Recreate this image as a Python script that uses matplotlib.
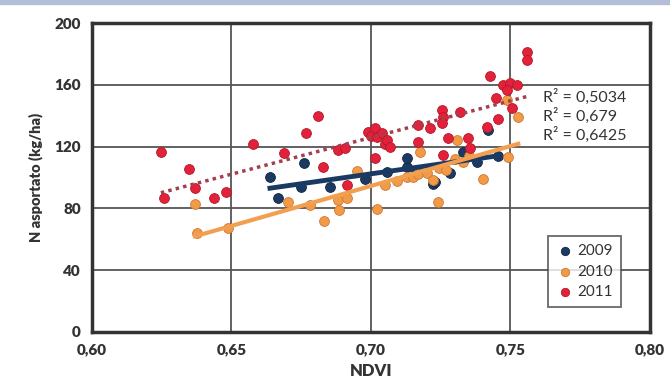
import numpy as np
import matplotlib
matplotlib.use("Agg")
import matplotlib.pyplot as plt
from matplotlib.patches import Rectangle

plt.rcParams['font.family'] = ['Lato', 'DejaVu Sans']

# NDVI vs N asportato, per anno
ndvi_2009 = [0.6638, 0.6668, 0.6761, 0.6751, 0.6853, 0.6980, 0.7056, 0.7128,
             0.7128, 0.7160, 0.7222, 0.7230, 0.7283, 0.7331, 0.7379, 0.7420, 0.7455]
n_2009 = [100, 86.5, 109.2, 94, 94, 99, 103.8, 107,
          112.4, 104, 96, 97.3, 102.7, 116.8, 110, 130.8, 114]

ndvi_2010 = [0.6375, 0.6489, 0.6369, 0.6704, 0.6781, 0.6832, 0.6887, 0.6883, 0.7020,
             0.6914, 0.6949, 0.7050, 0.7095, 0.7130, 0.7152, 0.7170, 0.7200, 0.7223,
             0.7245, 0.7241, 0.7176, 0.7270, 0.7300, 0.7330, 0.7350, 0.7307, 0.7400,
             0.7492, 0.7528, 0.7486]
n_2010 = [63.8, 67, 82.6, 84.3, 82, 72, 79, 85.4, 79.4,
          86.5, 104, 95, 98, 100, 100.5, 102, 102.7, 98.4,
          106, 84.3, 116.8, 105, 112, 110, 114, 124.3, 99,
          113, 139.4, 150.3]

ndvi_2011 = [0.6247, 0.6258, 0.6348, 0.6369, 0.6437, 0.6479, 0.6578, 0.6688, 0.6767,
             0.6809, 0.6829, 0.6883, 0.6907, 0.6913, 0.6990, 0.7000, 0.7014, 0.7020,
             0.7038, 0.7050, 0.7056, 0.7070, 0.7014, 0.7169, 0.7169, 0.7211, 0.7253,
             0.7259, 0.7253, 0.7277, 0.7349, 0.7319, 0.7259, 0.7355, 0.7415, 0.7456,
             0.7504, 0.7450, 0.7427, 0.7474, 0.7498, 0.7522, 0.7486, 0.7558, 0.7558]
n_2011 = [116.3, 86.5, 105.5, 93, 86.5, 90.8, 122, 115.7, 128.7,
          140, 107, 117.8, 119, 95, 129.7, 127, 131.9, 126,
          128.7, 122, 124.4, 120, 112.4, 134, 123.2, 131.9, 143.8,
          139.4, 135.1, 125.4, 125.4, 142.7, 114.6, 119, 133, 137.7,
          144.9, 151.4, 166, 160, 161, 160, 156.8, 181.6, 176.2]

r2_labels = ["R² = 0,5034", "R² = 0,679", "R² = 0,6425"]

x_ticks = [0.60, 0.65, 0.70, 0.75, 0.80]
y_ticks = [0, 40, 80, 120, 160, 200]

fig = plt.figure(figsize=(6.7, 3.92), dpi=100)
fig.patches.append(Rectangle((0, 0.99), 1, 0.01, transform=fig.transFigure,
                             color='#b3bfd8', zorder=0))
ax = fig.add_axes([0.1373, 0.1538, 0.8327, 0.7868])

series = [
    (ndvi_2009, n_2009, '2009', '#1b3a63', '#0f2540', '#1b3a63', '-', 3.5),
    (ndvi_2010, n_2010, '2010', '#f39a45', '#c9793a', '#f0a050', '-', 3.0),
    (ndvi_2011, n_2011, '2011', '#e3213a', '#b01a2a', '#a3404f', (0, (1, 1.2)), 2.5),
]

for x, y, lab, fc, ec, lc, ls, lw in series:
    ax.scatter(x, y, s=50, color=fc, edgecolors=ec, linewidths=0.6, label=lab, zorder=3)

for x, y, lab, fc, ec, lc, ls, lw in series:
    k, q = np.polyfit(x, y, 1)
    xx = np.array([min(x), max(x)])
    ax.plot(xx, k * xx + q, color=lc, linestyle=ls, linewidth=lw, zorder=4)

ax.set_xlim(0.60, 0.80)
ax.set_ylim(0, 200)
ax.set_xticks(x_ticks)
ax.set_yticks(y_ticks)
ax.set_xticklabels([f"{t:.2f}".replace('.', ',') for t in x_ticks])
ax.set_yticklabels([str(t) for t in y_ticks])
ax.tick_params(length=0, labelsize=11, colors='#333333', pad=8)
for lbl in ax.get_xticklabels() + ax.get_yticklabels():
    lbl.set_fontweight('heavy')

ax.grid(True, color='#555555', linewidth=1.3)
ax.set_axisbelow(True)
for sp in ax.spines.values():
    sp.set_linewidth(2.5)
    sp.set_color('#333333')

ax.set_xlabel("NDVI", fontsize=12, fontweight='heavy', color='#333333', labelpad=5)
ax.set_ylabel("N asportato (kg/ha)", fontsize=10.5, fontweight='heavy', color='#333333',
              labelpad=8)

for i, t in enumerate(r2_labels):
    ax.text(0.809, 0.762 - i * 0.062, t, transform=ax.transAxes, fontsize=11.5,
            color='#333333', va='center', ha='left', zorder=5)

leg = ax.legend(loc='lower right', bbox_to_anchor=(0.949, 0.08), fontsize=11,
                frameon=True, fancybox=False, handletextpad=0.3, borderpad=0.55,
                labelspacing=0.4, handlelength=1.1, markerscale=0.85,
                borderaxespad=0)
leg.get_frame().set_edgecolor('#444444')
leg.get_frame().set_linewidth(1.3)
for txt in leg.get_texts():
    txt.set_color('#333333')

fig.savefig("out.png", dpi=100)
